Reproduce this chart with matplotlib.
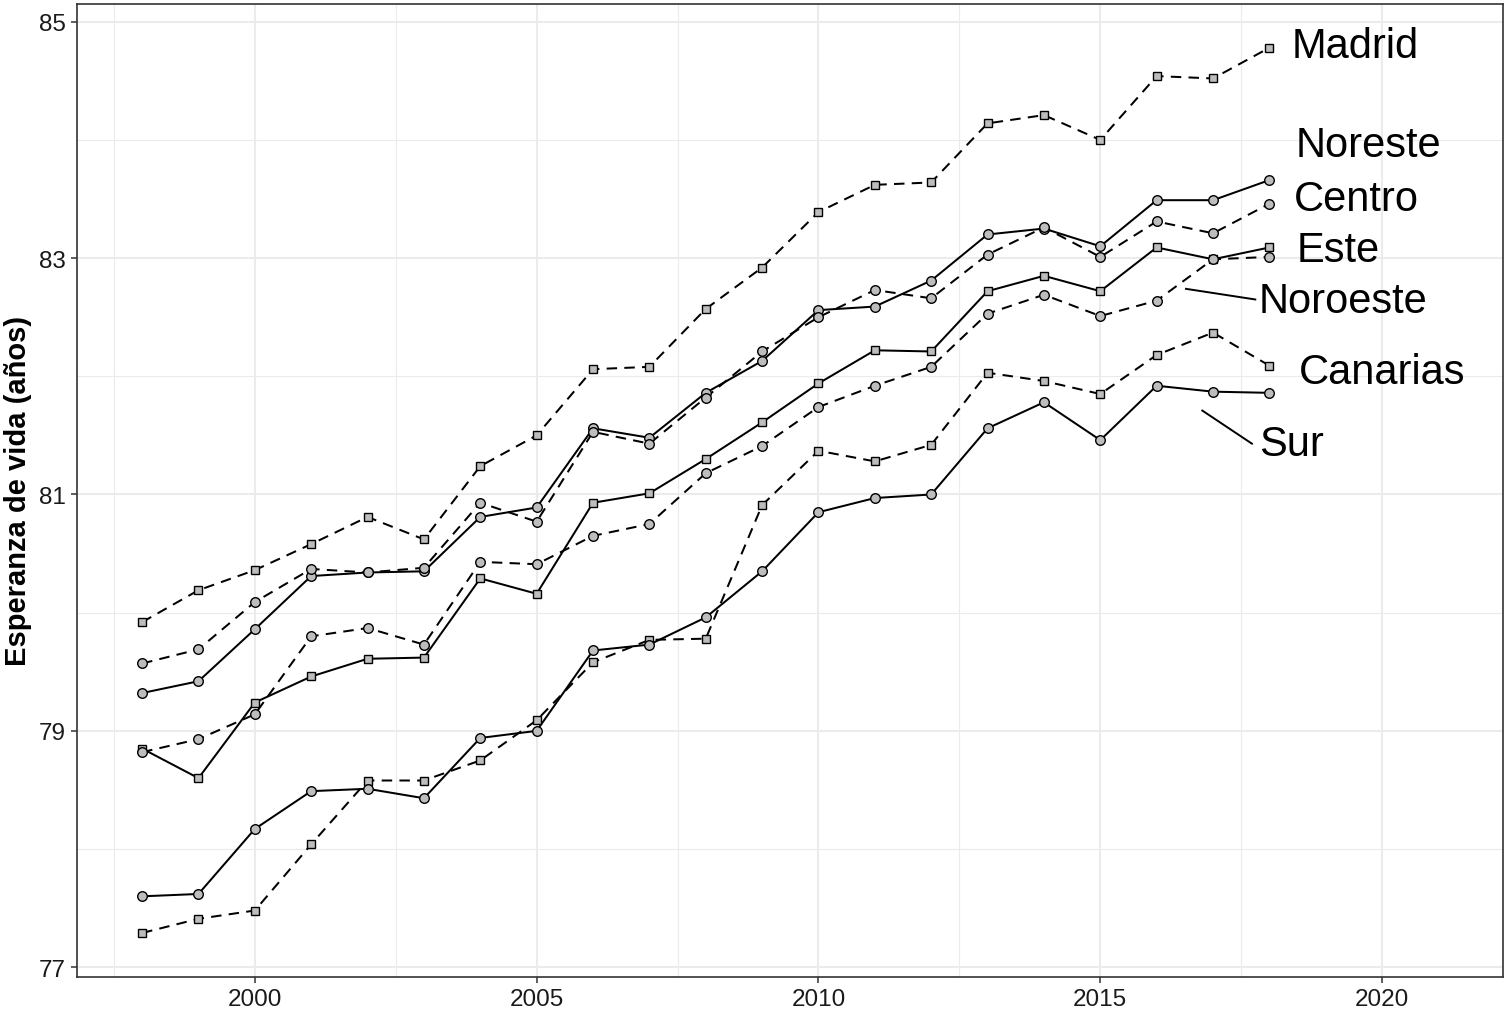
import matplotlib.pyplot as plt
from matplotlib.ticker import MultipleLocator

plt.rcParams['font.family'] = ['Liberation Sans', 'DejaVu Sans']

years = list(range(1998, 2019))

madrid = [79.92, 80.19, 80.36, 80.58, 80.81, 80.62, 81.24, 81.50, 82.06, 82.08, 82.57,
          82.92, 83.39, 83.62, 83.64, 84.14, 84.21, 84.00, 84.54, 84.52, 84.78]
noreste = [79.32, 79.42, 79.86, 80.31, 80.34, 80.35, 80.81, 80.89, 81.56, 81.48, 81.86,
           82.13, 82.56, 82.59, 82.81, 83.20, 83.25, 83.10, 83.49, 83.49, 83.66]
centro = [79.57, 79.69, 80.09, 80.37, 80.34, 80.38, 80.93, 80.77, 81.53, 81.43, 81.82,
          82.21, 82.50, 82.73, 82.66, 83.03, 83.26, 83.01, 83.31, 83.21, 83.46]
este = [78.85, 78.60, 79.24, 79.46, 79.61, 79.62, 80.29, 80.16, 80.93, 81.01, 81.30,
        81.61, 81.94, 82.22, 82.21, 82.72, 82.85, 82.72, 83.09, 82.99, 83.09]
noroeste = [78.82, 78.93, 79.14, 79.80, 79.87, 79.73, 80.43, 80.41, 80.65, 80.75, 81.18,
            81.41, 81.74, 81.92, 82.08, 82.53, 82.69, 82.51, 82.64, 82.99, 83.01]
canarias = [77.29, 77.41, 77.48, 78.04, 78.58, 78.58, 78.75, 79.09, 79.58, 79.77, 79.78,
            80.91, 81.37, 81.28, 81.42, 82.03, 81.96, 81.85, 82.18, 82.37, 82.09]
sur = [77.60, 77.62, 78.17, 78.49, 78.51, 78.43, 78.94, 79.00, 79.68, 79.73, 79.96,
       80.35, 80.85, 80.97, 81.00, 81.56, 81.78, 81.46, 81.92, 81.87, 81.86]

names = ['Madrid', 'Noreste', 'Centro', 'Este', 'Noroeste', 'Canarias', 'Sur']
series = [madrid, noreste, centro, este, noroeste, canarias, sur]

# estilo de cada zona: (linea, marcador)
styles = {
    'Madrid': ('dashed', 's'),
    'Noreste': ('solid', 'o'),
    'Centro': ('dashed', 'o'),
    'Este': ('solid', 's'),
    'Noroeste': ('dashed', 'o'),
    'Canarias': ('dashed', 's'),
    'Sur': ('solid', 'o'),
}

# posicion de las etiquetas (como ggrepel) y segmentos guia
label_pos = {
    'Madrid': (2018.40, 84.82),
    'Noreste': (2018.46, 83.98),
    'Centro': (2018.43, 83.52),
    'Este': (2018.48, 83.09),
    'Noroeste': (2017.81, 82.66),
    'Canarias': (2018.53, 82.06),
    'Sur': (2017.82, 81.45),
}
segments = {
    'Noroeste': ((2016.52, 2017.75), (82.74, 82.65)),
    'Sur': ((2016.81, 2017.69), (81.71, 81.43)),
}

W, H = 1508, 1012
fig = plt.figure(figsize=(W / 100, H / 100), dpi=100)
ax = fig.add_axes([77.3 / W, 1 - 977.7 / H, (1503.3 - 77.3) / W, (977.7 - 5) / H])

for name, vals in zip(names, series):
    ls, _ = styles[name]
    dash = (0, (5.2, 3.6)) if ls == 'dashed' else '-'
    ax.plot(years, vals, color='black', lw=1.45, linestyle=dash, zorder=2)

for name, vals in zip(names, series):
    _, mk = styles[name]
    ms = 5.9 if mk == 's' else 6.9
    ax.plot(years, vals, linestyle='none', marker=mk, ms=ms, mfc='#BDBDBD',
            mec='black', mew=1.0, zorder=3)

for name in names:
    x, y = label_pos[name]
    ax.annotate(name, (x, y), xytext=(0, -2), textcoords='offset points',
                fontsize=30, ha='left', va='center', color='black', zorder=4)

for name, (sx, sy) in segments.items():
    ax.plot(sx, sy, color='black', lw=1.4, zorder=4)

ax.set_xlim(1996.85, 2022.15)
ax.set_ylim(76.92, 85.15)
ax.xaxis.set_major_locator(MultipleLocator(5))
ax.xaxis.set_minor_locator(MultipleLocator(2.5))
ax.set_yticks([77, 79, 81, 83, 85])
ax.set_yticks([78, 80, 82, 84], minor=True)

ax.set_axisbelow(True)
ax.grid(which='major', color='#EBEBEB', lw=1.5)
ax.grid(which='minor', color='#EBEBEB', lw=0.8)

for sp in ax.spines.values():
    sp.set_color('#333333')
    sp.set_linewidth(1.2)

ax.tick_params(which='major', length=4.3, width=1.1, color='#333333',
               labelsize=17.5, labelcolor='#1a1a1a', pad=4)
ax.tick_params(which='minor', length=0)

ax.set_ylabel('Esperanza de vida (años)', fontsize=21, fontweight='bold')
ax.yaxis.set_label_coords(-0.0317, 0.5)

fig.savefig('out.png', dpi=100)
